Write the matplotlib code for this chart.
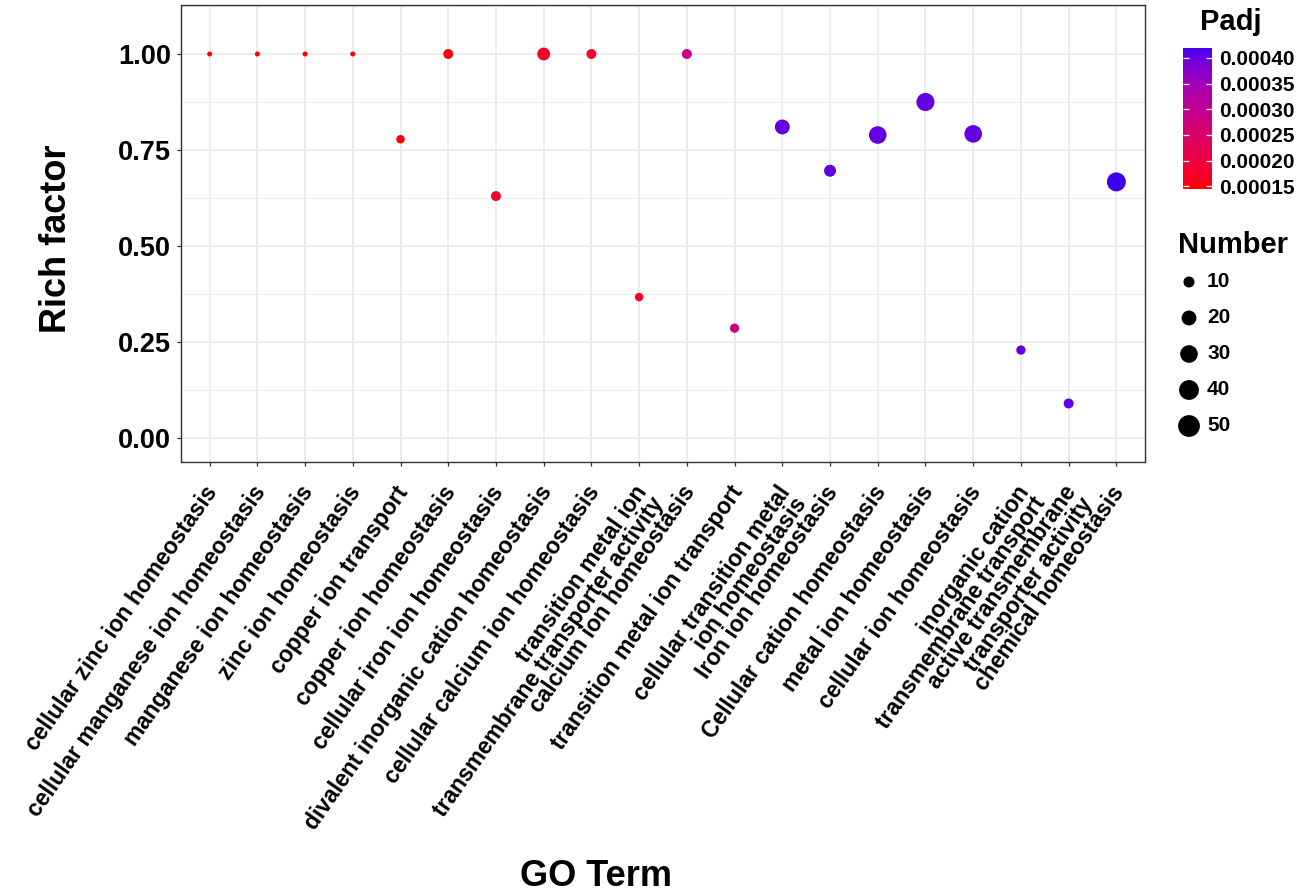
import numpy as np
import matplotlib
matplotlib.use("Agg")
import matplotlib.pyplot as plt
from matplotlib.colors import ListedColormap, Normalize, to_rgb
from matplotlib.colorbar import ColorbarBase
from matplotlib.ticker import MultipleLocator
import matplotlib.transforms as mtransforms

plt.rcParams['font.family'] = ['Liberation Sans', 'DejaVu Sans']

terms = [
    "cellular zinc ion homeostasis",
    "cellular manganese ion homeostasis",
    "manganese ion homeostasis",
    "zinc ion homeostasis",
    "copper ion transport",
    "copper ion homeostasis",
    "cellular iron ion homeostasis",
    "divalent inorganic cation homeostasis",
    "cellular calcium ion homeostasis",
    "transition metal ion\ntransmembrane transporter activity",
    "calcium ion homeostasis",
    "transition metal ion transport",
    "cellular transition metal\nion homeostasis",
    "Iron ion homeostasis",
    "Cellular cation homeostasis",
    "metal ion homeostasis",
    "cellular ion homeostasis",
    "inorganic cation\ntransmembrane transport",
    "active transmembrane\ntransporter activity",
    "chemical homeostasis",
]
rich_factor = [1.0, 1.0, 1.0, 1.0, 0.778, 1.0, 0.63, 1.0, 1.0, 0.367,
               1.0, 0.286, 0.81, 0.696, 0.789, 0.875, 0.792, 0.229, 0.09, 0.667]
number = [4, 4, 4, 4, 6, 8, 8, 14, 8, 6,
          8, 7, 20, 12, 30, 32, 30, 7, 8, 36]
padj = [0.000145, 0.000146, 0.000146, 0.000146, 0.00015, 0.00015, 0.00018,
        0.00018, 0.00018, 0.000175, 0.00029, 0.00029, 0.000403, 0.000403,
        0.000403, 0.000403, 0.000403, 0.000403, 0.000403, 0.000419]
padj_ticks = [0.00015, 0.00020, 0.00025, 0.00030, 0.00035, 0.00040]
padj_tick_labels = ["0.00015", "0.00020", "0.00025", "0.00030", "0.00035", "0.00040"]
number_breaks = [10, 20, 30, 40, 50]
y_ticks = [0.0, 0.25, 0.5, 0.75, 1.0]
low_colour = "#FF0000"
high_colour = "#4000F0"


# ---- Lab-space gradient (like ggplot's scale_colour_gradient) ----
M = np.array([[0.4124564, 0.3575761, 0.1804375],
              [0.2126729, 0.7151522, 0.0721750],
              [0.0193339, 0.1191920, 0.9503041]])
WHITE = np.array([0.95047, 1.0, 1.08883])


def rgb2lab(rgb):
    c = np.asarray(rgb, float)
    lin = np.where(c <= 0.04045, c / 12.92, ((c + 0.055) / 1.055) ** 2.4)
    xyz = M @ lin / WHITE
    d = 6 / 29
    f = np.where(xyz > d ** 3, np.cbrt(xyz), xyz / (3 * d * d) + 4 / 29)
    return np.array([116 * f[1] - 16, 500 * (f[0] - f[1]), 200 * (f[1] - f[2])])


def lab2rgb(lab):
    L, a, b = lab
    fy = (L + 16) / 116
    fx = fy + a / 500
    fz = fy - b / 200
    d = 6 / 29
    f = np.array([fx, fy, fz])
    xyz = np.where(f > d, f ** 3, 3 * d * d * (f - 4 / 29)) * WHITE
    lin = np.linalg.solve(M, xyz)
    lin = np.clip(lin, 0, 1)
    c = np.where(lin <= 0.0031308, 12.92 * lin, 1.055 * lin ** (1 / 2.4) - 0.055)
    return np.clip(c, 0, 1)


lab_lo = rgb2lab(to_rgb(low_colour))
lab_hi = rgb2lab(to_rgb(high_colour))
cols = [lab2rgb(lab_lo + t * (lab_hi - lab_lo)) for t in np.linspace(0, 1, 256)]
cmap = ListedColormap(cols)
norm = Normalize(vmin=min(padj), vmax=max(padj))


def diam_px(n):
    return 5 + np.sqrt(6.1 * (np.asarray(n, float) - 4))


def size_s(n):
    return (diam_px(n) * 72 / 100) ** 2


W, H = 1304, 894
fig = plt.figure(figsize=(W / 100, H / 100), dpi=100)
L0, R0, T0, B0 = 181, 1145, 5, 462
ax = fig.add_axes([L0 / W, 1 - B0 / H, (R0 - L0) / W, (B0 - T0) / H])

x = np.arange(1, len(terms) + 1)
ax.scatter(x, rich_factor, s=size_s(number), c=padj, cmap=cmap, norm=norm,
           linewidths=0, zorder=3)

ax.set_xlim(0.4, len(terms) + 0.6)
ax.set_ylim(-0.0625, 1.1276)
ax.set_yticks(y_ticks)
ax.set_yticklabels([f"{v:.2f}" for v in y_ticks], fontsize=19.5,
                   fontweight='bold', color='black')
ax.yaxis.set_minor_locator(MultipleLocator(0.125))
ax.set_xticks(x)
ax.set_xticklabels(terms, fontsize=16.5, fontweight='bold', color='black',
                   rotation=55, ha='right', va='top', rotation_mode='anchor',
                   linespacing=0.82)

ax.grid(which='major', color='#EBEBEB', lw=1.3, zorder=0)
ax.grid(which='minor', axis='y', color='#EBEBEB', lw=0.7, zorder=0)
ax.set_axisbelow(True)
for sp in ax.spines.values():
    sp.set_color('#333333')
    sp.set_linewidth(1.0)

ax.tick_params(axis='both', which='major', length=3, width=0.9, color='#333333')
ax.tick_params(axis='y', which='minor', length=0)
ax.tick_params(axis='y', pad=4)
ax.tick_params(axis='x', pad=11)
offset = mtransforms.ScaledTranslation(-6 / 100, 0, fig.dpi_scale_trans)
for lab in ax.get_xticklabels():
    lab.set_fontweight('bold')
    lab.set_transform(lab.get_transform() + offset)

fig.text(56 / W, 1 - 239 / H, "Rich factor", rotation=90, ha='center', va='center',
         fontsize=26, fontweight='bold')
fig.text(596 / W, 1 - 877 / H, "GO Term", ha='center', va='center',
         fontsize=26, fontweight='bold')

# ---- colour bar ----
fig.text(1231 / W, 1 - 22 / H, "Padj", ha='center', va='center',
         fontsize=21, fontweight='bold')
cax = fig.add_axes([1183 / W, 1 - 189 / H, 29 / W, 141 / H])
cb = ColorbarBase(cax, cmap=cmap, norm=norm, orientation='vertical')
cb.outline.set_visible(False)
cb.set_ticks(padj_ticks)
cb.set_ticklabels(padj_tick_labels)
cax.tick_params(left=True, right=True, direction='in', color='white',
                length=4, width=0.9, labelsize=15, pad=5)
for lab in cax.get_yticklabels():
    lab.set_fontweight('bold')

# ---- size legend ----
fig.text(1233 / W, 1 - 245 / H, "Number", ha='center', va='center',
         fontsize=21, fontweight='bold')
lax = fig.add_axes([1170 / W, 1 - 445 / H, 120 / W, 180 / H])
lax.set_xlim(1170, 1290)
lax.set_ylim(445, 265)
lax.axis('off')
ly = 282 + 36 * np.arange(len(number_breaks))
lax.scatter(np.full(len(number_breaks), 1189), ly, s=size_s(number_breaks),
            color='black', linewidths=0, clip_on=False)
for yy, nb in zip(ly, number_breaks):
    lax.text(1207, yy, str(nb), ha='left', va='center', fontsize=15,
             fontweight='bold')

fig.savefig("out.png", dpi=100, facecolor='white')
